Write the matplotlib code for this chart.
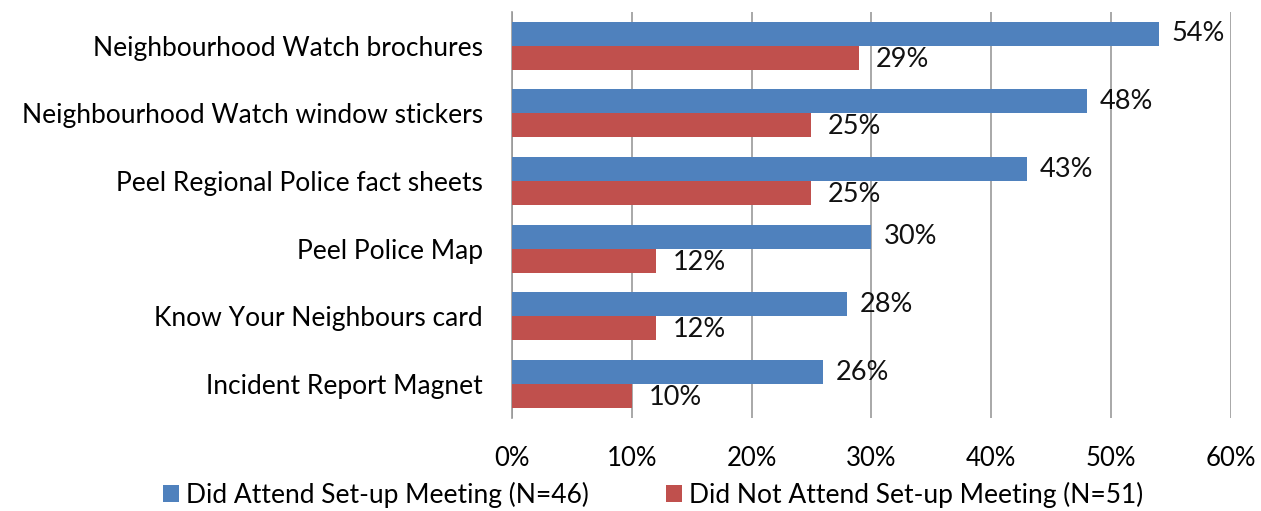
import matplotlib.pyplot as plt
import numpy as np

# data
categories = ['Neighbourhood Watch brochures', 'Neighbourhood Watch window stickers',
              'Peel Regional Police fact sheets', 'Peel Police Map',
              'Know Your Neighbours card', 'Incident Report Magnet']
attended = [54, 48, 43, 30, 28, 26]
not_attended = [29, 25, 25, 12, 12, 10]
series_names = ['Did Attend Set-up Meeting (N=46)', 'Did Not Attend Set-up Meeting (N=51)']

plt.rcParams['font.family'] = ['Lato', 'DejaVu Sans']
fig = plt.figure(figsize=(12.61, 5.11), dpi=100)
ax = fig.add_axes([0.406, 0.182, 0.570, 0.795])

y = np.arange(len(categories))
h = 0.355
b1 = ax.barh(y - h / 2, attended, height=h, color='#4f81bd', label=series_names[0], zorder=3)
b2 = ax.barh(y + h / 2, not_attended, height=h, color='#c0504d', label=series_names[1], zorder=3)

# value labels, red ones sit a bit further out and lower like the original
for bars, vals, dx, dy in [(b1, attended, 9, 0), (b2, not_attended, 12, -1)]:
    for bar, v in zip(bars, vals):
        ax.annotate('{}%'.format(v), (v, bar.get_y() + bar.get_height() / 2),
                    xytext=(dx, dy), textcoords='offset points',
                    va='center', ha='left', fontsize=19.5, color='#111111')

ax.set_ylim(len(categories) - 0.5, -0.5)
ax.set_xlim(0, 60)
ax.set_xticks(range(0, 61, 10))
ax.set_xticklabels(['{}%'.format(t) for t in range(0, 61, 10)], fontsize=18.5)
ax.set_yticks(y)
ax.set_yticklabels(categories, fontsize=19)
ax.tick_params(axis='x', length=0, pad=20)
ax.tick_params(axis='y', length=0, pad=21)
ax.grid(axis='x', color='#999999', linewidth=1.2, zorder=0)
for s in ['top', 'right', 'bottom']:
    ax.spines[s].set_visible(False)
ax.spines['left'].set_color('#999999')
ax.spines['left'].set_linewidth(1.2)

fig.legend(handles=[b1, b2], loc='lower center', bbox_to_anchor=(0.518, -0.04), ncol=2,
           frameon=False, fontsize=19, handlelength=0.6, handleheight=0.6,
           handletextpad=0.25, columnspacing=2.95)

fig.savefig('out.png', dpi=100)
